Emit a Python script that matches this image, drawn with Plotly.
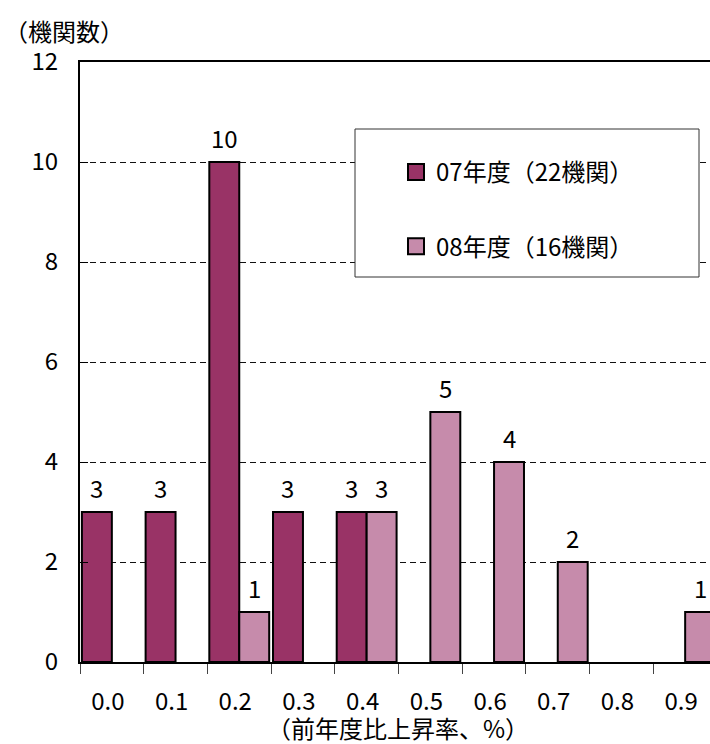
import plotly.graph_objects as go

# Distribution of institutions by year-on-year rise rate
categories = ["0.0", "0.1", "0.2", "0.3", "0.4", "0.5", "0.6", "0.7", "0.8", "0.9"]
counts_07 = [3, 3, 10, 3, 3, 0, 0, 0, 0, 0]
counts_08 = [0, 0, 1, 0, 3, 5, 4, 2, 0, 1]
series_names = ["07年度（22機関）", "08年度（16機関）"]
series_colors = ["#993366", "#C68BAB"]

FONT = "Noto Sans CJK JP"
W, H = 710, 744
ML, MR, MT, MB = 80, 0, 62, 82
BARGAP = 0.06

fig = go.Figure()
for vals, name, color in zip([counts_07, counts_08], series_names, series_colors):
    fig.add_trace(go.Bar(
        x=categories, y=vals, name=name, showlegend=False,
        marker=dict(color=color,
                    line=dict(color="black", width=[2 if v else 0 for v in vals])),
    ))
    # legend swatch (square marker, no data points)
    fig.add_trace(go.Scatter(
        x=[None], y=[None], mode="markers", name=name, legendgroup=name,
        marker=dict(symbol="square", size=16, color=color,
                    line=dict(color="black", width=2)),
    ))

# value labels above the non-zero bars
plot_w = W - ML - MR
x_lo, x_hi = -0.5, 9.39
band_px = plot_w / (x_hi - x_lo)
half = (1 - BARGAP) / 4 * band_px
annotations = []
for vals, sign in [(counts_07, -1), (counts_08, 1)]:
    for i, v in enumerate(vals):
        if v:
            annotations.append(dict(
                x=i, y=v, xref="x", yref="y", text=str(v), showarrow=False,
                xanchor="center", yanchor="middle",
                xshift=sign * half, yshift=25,
                font=dict(family=FONT, size=24, color="black"),
            ))

annotations.append(dict(
    x=0, y=1, xref="paper", yref="paper", text="（機関数）", showarrow=False,
    xanchor="left", yanchor="middle", xshift=-ML + 2, yshift=32,
    font=dict(family=FONT, size=24, color="black"),
))
annotations.append(dict(
    x=0.5, y=0, xref="paper", yref="paper", text="（前年度比上昇率、%）",
    showarrow=False, xanchor="center", yanchor="middle", xshift=3, yshift=-65,
    font=dict(family=FONT, size=24, color="black"),
))

# legend frame
def px_x(px):
    return (px - ML) / plot_w

def px_y(py):
    return (H - MB - py) / (H - MT - MB)

shapes = [dict(
    type="rect", xref="paper", yref="paper", layer="above",
    x0=px_x(355), x1=px_x(699), y0=px_y(277), y1=px_y(129),
    fillcolor="white", line=dict(color="#333333", width=1),
)]

fig.update_layout(
    width=W, height=H,
    margin=dict(l=ML, r=MR, t=MT, b=MB, pad=0),
    paper_bgcolor="white", plot_bgcolor="white",
    barmode="group", bargap=BARGAP, bargroupgap=0,
    font=dict(family=FONT, size=24, color="black"),
    annotations=annotations, shapes=shapes,
    legend=dict(
        x=px_x(396), y=px_y(150), xanchor="left", yanchor="top",
        bgcolor="rgba(0,0,0,0)", borderwidth=0,
        font=dict(family=FONT, size=24, color="black"),
        tracegroupgap=40, traceorder="grouped",
    ),
    xaxis=dict(
        type="category", range=[x_lo, x_hi],
        showline=True, linecolor="black", linewidth=2, mirror=True,
        ticks="outside", ticklen=10, tickwidth=1, tickcolor="#444444",
        tickson="boundaries", ticklabelstandoff=17, ticklabelshift=-4,
        showgrid=False, zeroline=False,
        tickfont=dict(family=FONT, size=24, color="black"),
    ),
    yaxis=dict(
        range=[0, 12], dtick=2, tick0=0,
        showline=True, linecolor="black", linewidth=2,
        ticks="inside", ticklen=8, tickwidth=1, tickcolor="black",
        showgrid=True, gridcolor="#111111", gridwidth=1, griddash="6px,4px",
        zeroline=False, ticklabelstandoff=15,
        tickfont=dict(family=FONT, size=24, color="black"),
    ),
)

fig.write_html("out.html")
